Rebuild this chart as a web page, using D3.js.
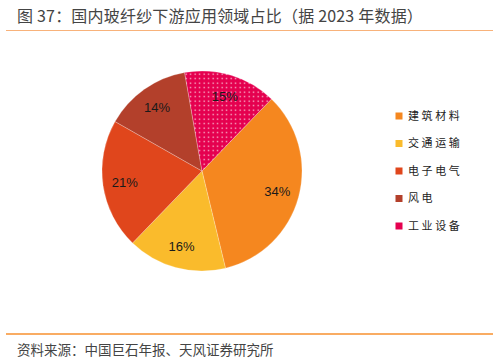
<!DOCTYPE html>
<html><head><meta charset="utf-8">
<script src="https://cdn.jsdelivr.net/npm/d3@7"></script>
<style>body{margin:0;background:#fff}svg{display:block}</style>
</head><body>
<script>
const categories = ["建筑材料","交通运输","电子电气","风电","工业设备"];
const values = [34,16,21,14,15];
const labels = ["34%","16%","21%","14%","15%"];
const colors = ["#F5871F","#FABB2C","#E0461C","#B3402B","#E5004F"];
const titleText = "图 37：国内玻纤纱下游应用领域占比（据 2023 年数据）";
const sourceText = "资料来源：中国巨石年报、天风证券研究所";

const W=499,H=362;
const svg=d3.select("body").append("svg").attr("width",W).attr("height",H);
const defs=svg.append("defs");
const pat=defs.append("pattern").attr("id","dots").attr("patternUnits","userSpaceOnUse")
  .attr("width",4.5).attr("height",4.5);
pat.append("rect").attr("width",4.5).attr("height",4.5).attr("fill",colors[4]);
pat.append("rect").attr("x",1.5).attr("y",1.5).attr("width",1.3).attr("height",1.3).attr("fill","#FBD0DE");

svg.append("text").attr("x",17).attr("y",22).attr("font-family","'Noto Sans CJK SC'")
  .attr("font-size",16).attr("fill","#444").attr("letter-spacing",0.2).text(titleText);
svg.append("line").attr("x1",6).attr("x2",493).attr("y1",30.5).attr("y2",30.5)
  .attr("stroke","#F8B27A").attr("stroke-width",1);
svg.append("line").attr("x1",6).attr("x2",493).attr("y1",334).attr("y2",334)
  .attr("stroke","#F7902F").attr("stroke-width",1.5);
svg.append("text").attr("x",17).attr("y",355).attr("font-family","'Noto Sans CJK SC'")
  .attr("font-size",13.5).attr("fill","#444").text(sourceText);

const cx=202,cy=171,R=100;
const start=44*Math.PI/180;
const pie=d3.pie().sort(null).value(d=>d).startAngle(start).endAngle(start+2*Math.PI);
const arcs=pie(values);
const arc=d3.arc().innerRadius(0).outerRadius(R);
const labelArc=d3.arc().innerRadius(78).outerRadius(78);
const g=svg.append("g").attr("transform",`translate(${cx},${cy})`);
g.selectAll("path").data(arcs).join("path").attr("d",arc)
  .attr("fill",(d,i)=>i===4?"url(#dots)":colors[i])
  .attr("stroke","#fff").attr("stroke-width",0.4).attr("stroke-opacity",0.6);
g.selectAll("text").data(arcs).join("text")
  .attr("transform",d=>`translate(${labelArc.centroid(d)})`)
  .attr("text-anchor","middle").attr("dy","0.36em")
  .attr("font-family","'Liberation Sans',Arial,sans-serif").attr("font-size",13).attr("fill","#1a1a1a")
  .text((d,i)=>labels[i]);

const y=d3.scalePoint().domain(categories).range([116,226]);
const lg=svg.append("g");
categories.forEach((c,i)=>{
  lg.append("rect").attr("x",395.5).attr("y",y(c)-3.5).attr("width",7).attr("height",7)
    .attr("fill",colors[i]);
  lg.append("text").attr("x",408).attr("y",y(c)).attr("dy","0.36em")
    .attr("font-family","'Noto Sans CJK SC'").attr("font-size",11).attr("letter-spacing",2.6)
    .attr("fill","#222").text(c);
});
</script>
</body></html>
